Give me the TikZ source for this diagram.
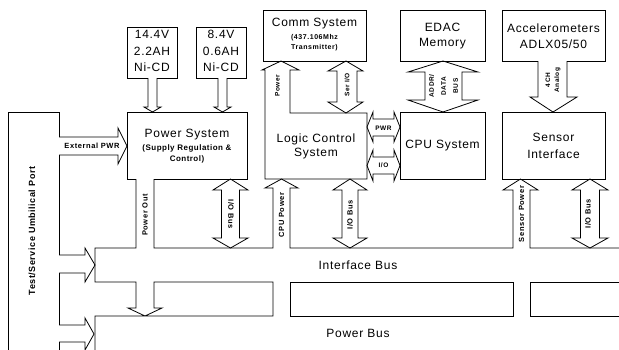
\documentclass[tikz,border=0pt]{standalone}
\usepackage{fontspec}
\setmainfont{Liberation Sans}
\newfontfamily\fa[LetterSpace=6]{Liberation Sans}
\newfontfamily\fb[LetterSpace=8]{Liberation Sans}
\newcommand\mkvarrow[3]{\draw[outline] (#1,179) -- ({#1+#2},190) -- ({#1+#3},190) -- ({#1+#3},238) -- ({#1+#2},238) -- (#1,248) -- ({#1-#2},238) -- ({#1-#3},238) -- ({#1-#3},190) -- ({#1-#2},190) -- cycle;}
\begin{document}
\begin{tikzpicture}[x=1pt,y=-1pt,line join=miter,
  outline/.style={draw=black,line width=0.8pt},
  big/.style={font=\fa\fontsize{12}{15}\selectfont,align=center,inner sep=0pt},
  med/.style={font=\fa\bfseries\fontsize{8}{11}\selectfont,align=center,inner sep=0pt},
  small/.style={font=\fb\bfseries\fontsize{7.5}{9.5}\selectfont,align=center,inner sep=0pt},
  tiny/.style={font=\fb\bfseries\fontsize{6.5}{9}\selectfont,align=center,inner sep=0pt}]
\clip (0,0) rectangle (619,349);
\fill[white] (0,0) rectangle (619,349);

% ---- port ----
\draw[outline] (59,137) -- (59,112) -- (8,112) -- (8,355);
\draw[outline] (59,155) -- (59,255);
\draw[outline] (59,273) -- (59,325);
\draw[outline] (59,342) -- (59,355);
% external PWR arrow
\draw[outline] (59,137) -- (118,137) -- (118,128) -- (127,146) -- (118,164) -- (118,155) -- (59,155);
% port -> interface bus
\draw[outline] (59,255) -- (85,255) -- (85,248) -- (95,265) -- (85,282) -- (85,273) -- (59,273);
% port -> power bus
\draw[outline] (59,325) -- (85,325) -- (85,318) -- (94,334) -- (85,350) -- (85,342) -- (59,342);

% ---- buses and power shafts ----
\draw[outline] (136,179) -- (136,248) -- (95,248) -- (95,282) -- (136,282) -- (136,308) -- (128,308) -- (145,316) -- (162,308) -- (154,308) -- (154,282) -- (273,282) -- (273,316) -- (95,316) -- (95,355);
\draw[outline] (154,179) -- (154,248) -- (273,248) -- (273,188) -- (265,188) -- (281.5,179) -- (298,188) -- (290,188) -- (290,248) -- (513,248) -- (513,190) -- (503,190) -- (520.5,179) -- (538,190) -- (530,190) -- (530,248) -- (625,248);
\draw[outline] (290,282) -- (513,282) -- (513,316) -- (290,316) -- cycle;
\draw[outline] (625,282) -- (530,282) -- (530,316) -- (625,316);

% ---- power system ----
\draw[outline] (136,179) -- (127,179) -- (127,112) -- (247,112) -- (247,179) -- (154,179);
% batteries
\draw[outline] (148,78) -- (127,78) -- (127,27) -- (177,27) -- (177,78) -- (157,78);
\draw[outline] (148,78) -- (148,107) -- (144,107) -- (152.5,112) -- (161,107) -- (157,107) -- (157,78);
\draw[outline] (218,78) -- (196,78) -- (196,27) -- (246,27) -- (246,78) -- (227,78);
\draw[outline] (218,78) -- (218,107) -- (214,107) -- (222.5,112) -- (231,107) -- (227,107) -- (227,78);

% ---- comm / logic ----
\draw[outline] (263,10) rectangle (366,61);
\draw[outline] (265,70) -- (265,179) -- (367,179) -- (367,113) -- (290,113) -- (290,70) -- (299,70) -- (281,61) -- (262,70) -- cycle;
\draw[outline] (346,61) -- (363,71) -- (357,71) -- (357,102) -- (363,102) -- (346,113) -- (328,102) -- (337,102) -- (337,71) -- (328,71) -- cycle;

% ---- EDAC / CPU ----
\draw[outline] (400,10) rectangle (485,61);
\draw[outline] (400,112) rectangle (485,179);
\draw[outline] (443,61) -- (478,72) -- (462,72) -- (462,100) -- (478,100) -- (443,112) -- (408,100) -- (425,100) -- (425,72) -- (408,72) -- cycle;
% PWR and I/O between logic and CPU
\draw[outline] (367,127) -- (373,112) -- (373,119) -- (394,119) -- (394,112) -- (400,127) -- (394,142) -- (394,136) -- (373,136) -- (373,142) -- cycle;
\draw[outline] (367,165.5) -- (373,150) -- (373,157) -- (394,157) -- (394,150) -- (400,165.5) -- (394,181) -- (394,174) -- (373,174) -- (373,181) -- cycle;

% ---- accelerometers / sensor ----
\draw[outline] (538,61) -- (502,61) -- (502,10) -- (605,10) -- (605,61) -- (567,61);
\draw[outline] (538,61) -- (538,97) -- (530,97) -- (553,112) -- (577,97) -- (567,97) -- (567,61);
\draw[outline] (502,112) rectangle (605,179);

% ---- I/O bus arrows ----
\mkvarrow{230.5}{17.5}{9}
\mkvarrow{350}{17}{8}
\mkvarrow{590}{18}{9.5}

% ---- texts ----
\node[font=\fa\bfseries\fontsize{9}{11}\selectfont,inner sep=0pt,rotate=90] (port) at (32,231) {Test/Service Umbilical Port};
\node[big,font=\fa\fontsize{12}{16.5}\selectfont] (bat1) at (152,51) {14.4V\\2.2AH\\Ni-CD};
\node[big,font=\fa\fontsize{12}{16.5}\selectfont] (bat2) at (221,51) {8.4V\\0.6AH\\Ni-CD};
\node[big] (ps) at (187,135) {Power System};
\node[med] (psn) at (187,153.5) {(Supply Regulation \&\\Control)};
\node[big] (comm) at (314.5,24) {Comm System};
\node[tiny,font=\fb\bfseries\fontsize{7}{10}\selectfont] (commn) at (314.5,43) {(437.106Mhz\\Transmitter)};
\node[big,font=\fa\fontsize{12}{14}\selectfont] (lcs) at (316,146) {Logic Control\\System};
\node[big] (edac) at (442.5,36) {EDAC\\Memory};
\node[big] (cpu) at (442.5,146) {CPU System};
\node[big,font=\fa\fontsize{12}{16}\selectfont] (acc) at (553.5,36) {Accelerometers\\ADLX05/50};
\node[big,font=\fa\fontsize{12}{17}\selectfont] (sens) at (553.5,145.5) {Sensor\\Interface};
\node[big] (ibus) at (358,265) {Interface Bus};
\node[big] (pbus) at (358,333) {Power Bus};

\node[small] (extpwr) at (92,146) {External PWR};
\node[small,rotate=90] (pout) at (145,215) {Power Out};
\node[small,rotate=-90] (iob1) at (231,214) {I/O Bus};
\node[small,rotate=90] (cpup) at (281.5,215) {CPU Power};
\node[small,rotate=90] (iob2) at (350,215) {I/O Bus};
\node[small,rotate=90] (senp) at (521.5,214) {Sensor Power};
\node[small,rotate=90] (iob3) at (588,214) {I/O Bus};
\node[tiny] (pwrl) at (383.5,128) {PWR};
\node[tiny] (iol) at (383.5,165.5) {I/O};
\node[tiny,rotate=90] (powl) at (277.5,86) {Power};
\node[tiny,rotate=90] (serl) at (347,85) {Ser I/O};
\node[tiny,rotate=90,font=\fb\bfseries\fontsize{6.5}{12}\selectfont] (addr) at (443.5,86) {ADDR/\\DATA\\BUS};
\node[tiny,rotate=90,font=\fb\bfseries\fontsize{6.5}{9}\selectfont] (ana) at (553,80) {4CH\\Analog};
\end{tikzpicture}
\end{document}
